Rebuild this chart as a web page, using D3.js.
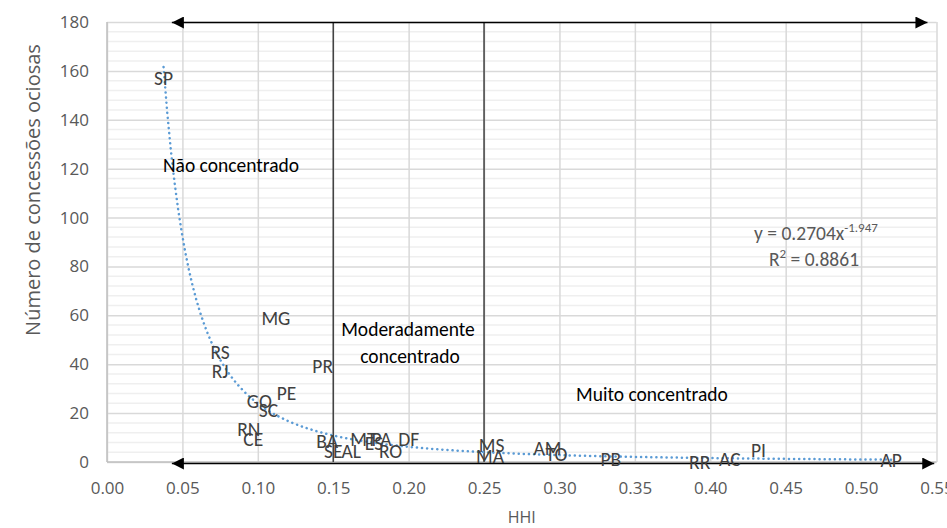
<!DOCTYPE html>
<html>
<head>
<meta charset="utf-8">
<script src="https://cdn.jsdelivr.net/npm/d3@7"></script>
<style>
  body { margin: 0; background: #fff; }
  svg { display: block; font-family: Carlito, Calibri, Lato, sans-serif; }
  .ui { font-family: "Open Sans", "Segoe UI", sans-serif; }
</style>
</head>
<body>
<div id="chart"></div>
<script>
// states (UF) with HHI and number of idle concessions
const states = ['SP','MG','RS','RJ','GO','PE','SC','RN','CE','PR','BA','SE','AL','MT','ES','PA','RO','DF',
                'MS','MA','AM','TO','PB','RR','AC','PI','AP'];
const hhi = [0.0375, 0.112, 0.075, 0.075, 0.101, 0.119, 0.107, 0.094, 0.097, 0.143, 0.146, 0.150, 0.162, 0.170,
             0.177, 0.182, 0.188, 0.200, 0.255, 0.254, 0.292, 0.298, 0.334, 0.393, 0.413, 0.432, 0.520];
const idle = [157, 59, 45, 37, 25, 28, 21, 13.5, 9.5, 39, 8.5, 4.5, 4.5, 9.5, 7.5, 9.5, 4.5, 9.5,
              7, 2.5, 5.7, 3, 1, 0, 1.2, 5, 0.8];
const xTicks = [0, 0.05, 0.10, 0.15, 0.20, 0.25, 0.30, 0.35, 0.40, 0.45, 0.50, 0.55];
const yTicks = [0, 20, 40, 60, 80, 100, 120, 140, 160, 180];
// power trendline shown on the chart
const fitA = 0.2704, fitB = -1.947;
const bounds = [0.15, 0.25];

const width = 947, height = 528;
const margin = { top: 22, right: 10.5, bottom: 66, left: 107 };

const svg = d3.select('#chart').append('svg')
    .attr('width', width)
    .attr('height', height);

const x = d3.scaleLinear().domain([0, 0.55]).range([margin.left, width - margin.right]);
const y = d3.scaleLinear().domain([0, 180]).range([height - margin.bottom, margin.top]);

// minor gridlines every 4
svg.append('g')
    .selectAll('line')
    .data(d3.range(4, 180, 4).filter(v => v % 20 !== 0))
    .join('line')
    .attr('x1', x(0)).attr('x2', x(0.55))
    .attr('y1', d => y(d)).attr('y2', d => y(d))
    .attr('stroke', '#efefef').attr('stroke-width', 1.5);

// major gridlines
svg.append('g')
    .call(d3.axisLeft(y).tickValues(yTicks).tickSize(-(x(0.55) - x(0))).tickFormat(''))
    .attr('transform', `translate(${x(0)},0)`)
    .call(g => g.select('.domain').remove())
    .selectAll('line').attr('stroke', '#d9d9d9').attr('stroke-width', 1.5);

svg.append('g')
    .call(d3.axisBottom(x).tickValues(xTicks).tickSize(-(y(0) - y(180))).tickFormat(''))
    .attr('transform', `translate(0,${y(0)})`)
    .call(g => g.select('.domain').remove())
    .selectAll('line').attr('stroke', '#d9d9d9').attr('stroke-width', 1.5);

// axis lines
svg.append('line')
    .attr('x1', x(0)).attr('x2', x(0)).attr('y1', y(0)).attr('y2', y(180))
    .attr('stroke', '#bfbfbf').attr('stroke-width', 1.5);
svg.append('line')
    .attr('x1', x(0)).attr('x2', x(0.55)).attr('y1', y(0)).attr('y2', y(0))
    .attr('stroke', '#bfbfbf').attr('stroke-width', 1.5);

// tick labels
const xAxis = svg.append('g')
    .attr('class', 'ui')
    .attr('transform', `translate(0,${y(0)})`)
    .call(d3.axisBottom(x).tickValues(xTicks).tickSize(0).tickPadding(20).tickFormat(d3.format('.2f')));
xAxis.select('.domain').remove();
xAxis.selectAll('text').attr('fill', '#595959').style('font-size', '17px');

const yAxis = svg.append('g')
    .attr('class', 'ui')
    .attr('transform', `translate(${x(0)},0)`)
    .call(d3.axisLeft(y).tickValues(yTicks).tickSize(0).tickPadding(18));
yAxis.select('.domain').remove();
yAxis.selectAll('text').attr('fill', '#595959').style('font-size', '17px');
xAxis.attr('font-family', null);
yAxis.attr('font-family', null);

// axis titles
svg.append('text')
    .attr('class', 'ui')
    .attr('x', (x(0) + x(0.55)) / 2).attr('y', 523)
    .attr('text-anchor', 'middle')
    .attr('fill', '#595959').style('font-size', '16px')
    .text('HHI');

svg.append('text')
    .attr('class', 'ui')
    .attr('transform', 'translate(40,190) rotate(-90)')
    .attr('text-anchor', 'middle')
    .attr('fill', '#595959').style('font-size', '20px')
    .text('Número de concessões ociosas');

// concentration bounds
svg.selectAll('.bound')
    .data(bounds)
    .join('line')
    .attr('class', 'bound')
    .attr('x1', d => x(d)).attr('x2', d => x(d))
    .attr('y1', y(180)).attr('y2', y(0))
    .attr('stroke', '#404040').attr('stroke-width', 1.5);

// arrows
const defs = svg.append('defs');
defs.append('marker')
    .attr('id', 'arr')
    .attr('viewBox', '0 0 10 10')
    .attr('refX', 10).attr('refY', 5)
    .attr('markerWidth', 12).attr('markerHeight', 12)
    .attr('markerUnits', 'userSpaceOnUse')
    .attr('orient', 'auto-start-reverse')
    .append('path')
    .attr('d', 'M0,0 L10,5 L0,10 Z')
    .attr('fill', '#000');

svg.append('line')
    .attr('x1', x(0.043)).attr('x2', x(0.544))
    .attr('y1', y(180) + 0.5).attr('y2', y(180) + 0.5)
    .attr('stroke', '#000').attr('stroke-width', 1.5)
    .attr('marker-start', 'url(#arr)').attr('marker-end', 'url(#arr)');

svg.append('line')
    .attr('x1', x(0.043)).attr('x2', x(0.5485))
    .attr('y1', y(0) + 1.5).attr('y2', y(0) + 1.5)
    .attr('stroke', '#000').attr('stroke-width', 1.5)
    .attr('marker-start', 'url(#arr)').attr('marker-end', 'url(#arr)');

// power trendline
const xMin = d3.min(hhi), xMax = d3.max(hhi);
const trend = d3.range(0, 201).map(i => {
    const xv = xMin + (xMax - xMin) * i / 200;
    return [xv, fitA * Math.pow(xv, fitB)];
});
svg.append('path')
    .datum(trend)
    .attr('d', d3.line().x(d => x(d[0])).y(d => y(d[1])))
    .attr('fill', 'none')
    .attr('stroke', '#5b9bd5').attr('stroke-width', 2.5)
    .attr('stroke-linecap', 'round')
    .attr('stroke-dasharray', '0.1 5');

// data labels (centered on the points)
svg.append('g')
    .selectAll('text')
    .data(states)
    .join('text')
    .attr('x', (d, i) => x(hhi[i]))
    .attr('y', (d, i) => y(idle[i]))
    .attr('dy', '0.35em')
    .attr('text-anchor', 'middle')
    .attr('fill', '#404040').style('font-size', '19.5px')
    .text(d => d);

// region annotations
const ann = svg.append('g').attr('fill', '#000').style('font-size', '19.5px');
ann.append('text').attr('x', 163).attr('y', 172).text('Não concentrado');
ann.append('text').attr('x', 408).attr('y', 336).attr('text-anchor', 'middle').text('Moderadamente');
ann.append('text').attr('x', 410).attr('y', 363).attr('text-anchor', 'middle').text('concentrado');
ann.append('text').attr('x', 576).attr('y', 401).text('Muito concentrado');

// equation
const eq = svg.append('g').attr('fill', '#595959').style('font-size', '19.5px');
const t1 = eq.append('text').attr('x', 816).attr('y', 240).attr('text-anchor', 'middle');
t1.append('tspan').text('y = 0.2704x');
t1.append('tspan').attr('dy', -8).style('font-size', '13px').text('-1.947');
const t2 = eq.append('text').attr('x', 814).attr('y', 266).attr('text-anchor', 'middle');
t2.append('tspan').text('R');
t2.append('tspan').attr('dy', -8).style('font-size', '13px').text('2');
t2.append('tspan').attr('dy', 8).text(' = 0.8861');
</script>
</body>
</html>
